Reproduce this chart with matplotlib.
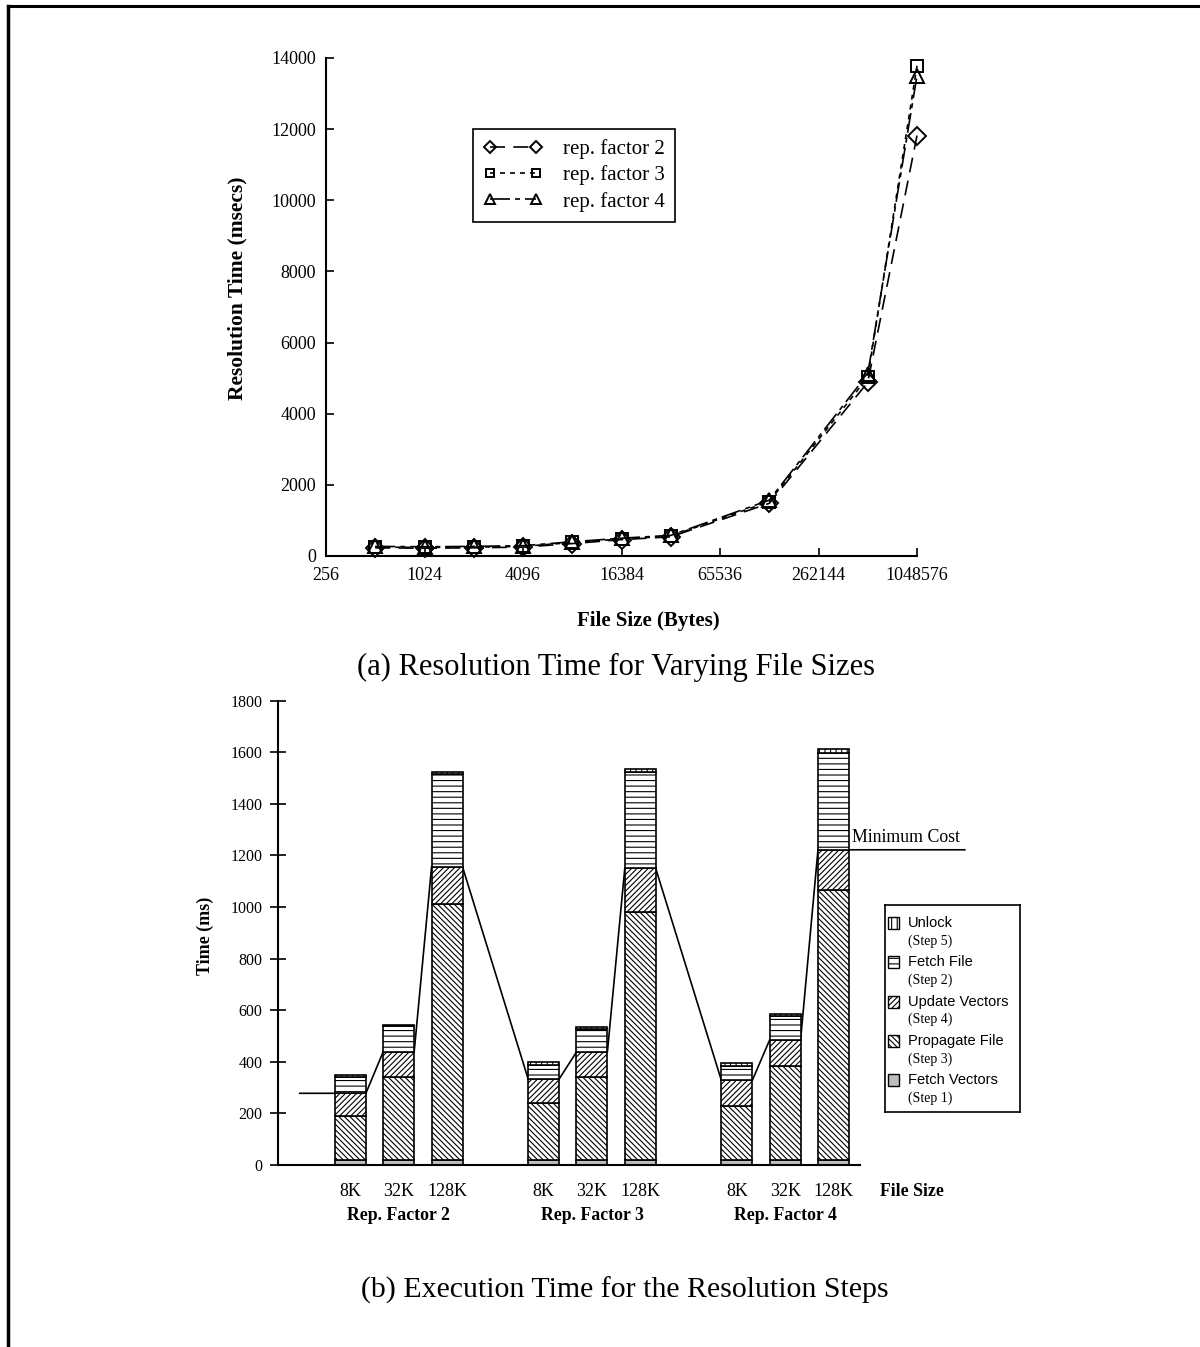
import matplotlib
matplotlib.use("Agg")
import matplotlib.pyplot as plt
from matplotlib.lines import Line2D
from matplotlib.patches import Rectangle
from matplotlib.ticker import NullLocator

plt.rcParams["font.family"] = ["Liberation Serif", "DejaVu Serif"]
plt.rcParams["hatch.linewidth"] = 0.8

# (a) resolution time vs. file size
file_sizes = [512, 1024, 2048, 4096, 8192, 16384, 32768, 131072, 524288, 1048576]
rep2_ms = [230, 220, 230, 250, 350, 460, 540, 1480, 4880, 11820]
rep3_ms = [250, 240, 250, 270, 380, 480, 560, 1530, 5020, 13780]
rep4_ms = [270, 260, 270, 290, 400, 500, 580, 1570, 5120, 13500]
size_ticks = [256, 1024, 4096, 16384, 65536, 262144, 1048576]
time_ticks_a = list(range(0, 14001, 2000))

# (b) execution time per resolution step
bar_pos = [0, 1, 2, 4, 5, 6, 8, 9, 10]
size_labels = ["8K", "32K", "128K", "8K", "32K", "128K", "8K", "32K", "128K"]
group_centers = [1, 5, 9]
group_labels = ["Rep. Factor 2", "Rep. Factor 3", "Rep. Factor 4"]
fetch_vectors = [18, 18, 18, 18, 18, 18, 18, 18, 18]
propagate_file = [172, 325, 992, 222, 325, 963, 209, 364, 1048]
update_vectors = [88, 97, 146, 93, 95, 169, 101, 103, 156]
fetch_file = [65, 98, 358, 55, 89, 374, 54, 92, 377]
unlock = [7, 4, 10, 10, 9, 10, 15, 8, 13]
time_ticks_b = list(range(0, 1801, 200))

W, H = 1200, 1347
fig = plt.figure(figsize=(W / 100, H / 100), dpi=100)


def fx(px):
    return px / W


def fy(py):
    return 1 - py / H


# ---------------- (a) ----------------
ax1 = fig.add_axes([fx(326), fy(556), fx(917 - 326), (556 - 58) / H])
ax1.set_xscale("log", base=2)
ax1.set_xlim(256, 1048576)
ax1.set_ylim(0, 14000)

common = dict(color="black", lw=1.2, mfc="none", mec="black", mew=1.4, clip_on=False)
ax1.plot(file_sizes, rep2_ms, ls=(0, (9, 5)), marker="D", ms=9.5, label="rep. factor 2", **common)
ax1.plot(file_sizes, rep3_ms, ls=(0, (3, 3)), marker="s", ms=8, label="rep. factor 3", **common)
ax1.plot(file_sizes, rep4_ms, ls=(0, (12, 3, 3, 3)), marker="^", ms=10, label="rep. factor 4", **common)

ax1.set_xticks(size_ticks)
ax1.set_xticklabels([str(v) for v in size_ticks])
ax1.xaxis.set_minor_locator(NullLocator())
ax1.set_yticks(time_ticks_a)
ax1.tick_params(direction="in", length=6, width=1.2, labelsize=13)
ax1.tick_params(axis="x", pad=8)
ax1.tick_params(axis="y", pad=7)
for s in ("top", "right"):
    ax1.spines[s].set_visible(False)
for s in ("left", "bottom"):
    ax1.spines[s].set_linewidth(1.5)

leg = ax1.legend(loc="upper left", bbox_to_anchor=(fx(473), fy(129)), bbox_transform=fig.transFigure,
                 borderaxespad=0, fancybox=False, edgecolor="black", framealpha=1, fontsize=15,
                 numpoints=2, handlelength=2.8, handletextpad=1.0, labelspacing=0.3,
                 markerscale=0.65, borderpad=0.5)
leg.get_frame().set_linewidth(1.2)

fig.text(fx(237), fy(288), "Resolution Time (msecs)", rotation=90, ha="center", va="center",
         fontsize=15.5, fontweight="bold")
fig.text(fx(648), fy(621), "File Size (Bytes)", ha="center", va="center", fontsize=15, fontweight="bold")
fig.text(fx(616), fy(667), "(a) Resolution Time for Varying File Sizes", ha="center", va="center", fontsize=22)

# ---------------- (b) ----------------
ax2 = fig.add_axes([fx(278), fy(1165), fx(860 - 278), (1165 - 700.7) / H])
ax2.set_xlim(-1.5, 10.55)
ax2.set_ylim(0, 1800)

bw = 0.64
prop_hatch = "\\" * 6
upd_hatch = "/" * 6
layers = [
    (fetch_vectors, "#bdbdbd", ""),
    (propagate_file, "white", prop_hatch),
    (update_vectors, "white", upd_hatch),
    (fetch_file, "white", "---"),
    (unlock, "white", "|||"),
]
bottom = [0] * len(bar_pos)
for vals, fc, hatch in layers:
    ax2.bar(bar_pos, vals, bottom=bottom, width=bw, facecolor=fc, edgecolor="black",
            hatch=hatch, lw=1.2, zorder=2)
    bottom = [b + v for b, v in zip(bottom, vals)]

# minimum cost = steps 1 + 3 + 4, joined from bar to bar
min_cost = [a + b + c for a, b, c in zip(fetch_vectors, propagate_file, update_vectors)]
xs, ys = [-1.05], [min_cost[0]]
for p, m in zip(bar_pos, min_cost):
    xs += [p - bw / 2, p + bw / 2]
    ys += [m, m]
xs.append(12.72)
ys.append(min_cost[-1])
ax2.plot(xs, ys, color="black", lw=1.2, zorder=1, clip_on=False)
ax2.text(10.38, min_cost[-1] + 14, "Minimum Cost", fontsize=12.8, ha="left", va="bottom")

ax2.set_yticks(time_ticks_b)
ax2.tick_params(axis="y", direction="inout", length=12, width=1.2, labelsize=11.5, pad=5)
ax2.set_xticks(bar_pos)
ax2.set_xticklabels(size_labels)
ax2.tick_params(axis="x", length=0, labelsize=13, pad=13)
for s in ("top", "right"):
    ax2.spines[s].set_visible(False)
for s in ("left", "bottom"):
    ax2.spines[s].set_linewidth(1.5)

xt = ax2.get_xaxis_transform()
for c, lab in zip(group_centers, group_labels):
    ax2.text(c, -0.108, lab, transform=xt, ha="center", va="center", fontsize=12.8, fontweight="bold")
ax2.text(11.63, -0.058, "File Size", transform=xt, ha="center", va="center", fontsize=12.8, fontweight="bold")

fig.text(fx(205), fy(936), "Time (ms)", rotation=90, ha="center", va="center", fontsize=13, fontweight="bold")
fig.text(fx(625), fy(1290), "(b) Execution Time for the Resolution Steps", ha="center", va="center", fontsize=21.5)

# legend box for the steps
lax = fig.add_axes([fx(885), fy(1112), fx(135), 207 / H])
lax.set_xlim(0, 135)
lax.set_ylim(207, 0)
lax.set_xticks([])
lax.set_yticks([])
for s in lax.spines.values():
    s.set_linewidth(1.2)
legend_rows = [
    ("Unlock", "(Step 5)", "white", "|||"),
    ("Fetch File", "(Step 2)", "white", "---"),
    ("Update Vectors", "(Step 4)", "white", upd_hatch),
    ("Propagate File", "(Step 3)", "white", prop_hatch),
    ("Fetch Vectors", "(Step 1)", "#bdbdbd", ""),
]
for i, (name, step, fc, hatch) in enumerate(legend_rows):
    y = 18 + i * 39.3
    lax.add_patch(Rectangle((3, y - 6), 11, 12, facecolor=fc, edgecolor="black", hatch=hatch, lw=1.0))
    lax.text(23, y, name, family=["Liberation Sans", "DejaVu Sans"], fontsize=10.5, ha="left", va="center")
    lax.text(23, y + 18, step, fontsize=10, ha="left", va="center")

# page frame (top and left rules)
fig.add_artist(Line2D([fx(8), fx(1200)], [fy(6), fy(6)], color="black", lw=2.2))
fig.add_artist(Line2D([fx(8), fx(8)], [fy(6), 0], color="black", lw=2.5))

fig.savefig("out.png", dpi=100)
